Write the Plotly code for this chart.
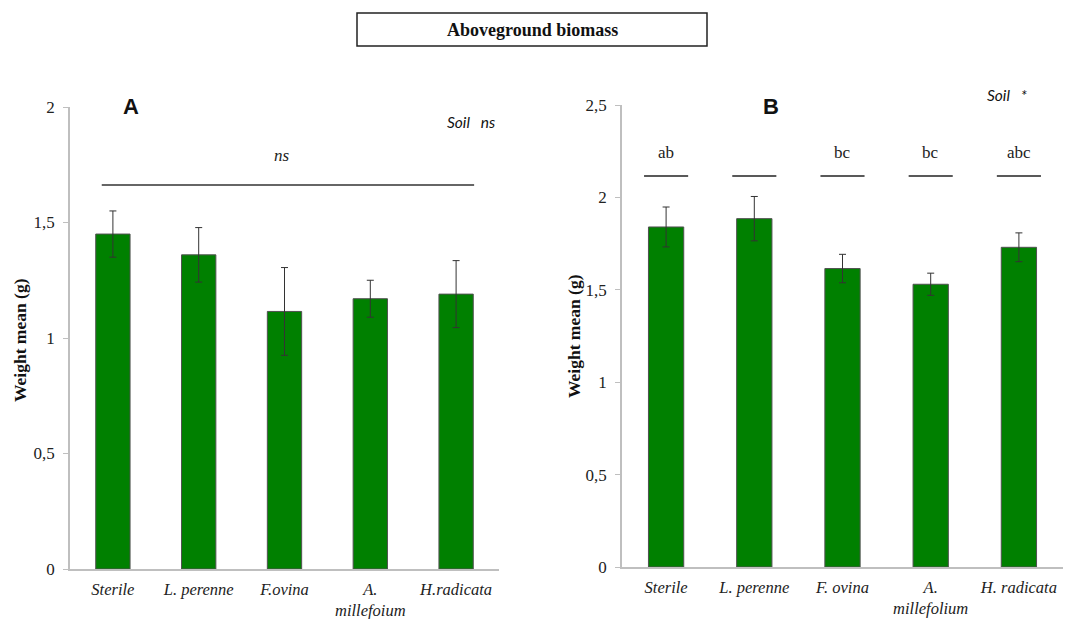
import plotly.graph_objects as go

# ---- data ----
cats_a = ["Sterile", "L. perenne", "F.ovina", "A.<br>millefoium", "H.radicata"]
means_a = [1.45, 1.36, 1.115, 1.17, 1.19]
errs_a = [0.10, 0.118, 0.19, 0.08, 0.145]

cats_b = ["Sterile", "L. perenne", "F. ovina", "A.<br>millefolium", "H. radicata"]
means_b = [1.84, 1.885, 1.615, 1.53, 1.73]
errs_b = [0.108, 0.12, 0.077, 0.06, 0.078]
letters_b = ["ab", "", "bc", "bc", "abc"]

yticks_a = [0, 0.5, 1, 1.5, 2]
yticklabels_a = ["0", "0,5", "1", "1,5", "2"]
yticks_b = [0, 0.5, 1, 1.5, 2, 2.5]
yticklabels_b = ["0", "0,5", "1", "1,5", "2", "2,5"]

sig_line_a = 1.662
letter_line_b = 2.116

GREEN = "#008000"
AX = "#bfbfbf"
SERIF = "Liberation Serif"
SANS = "Liberation Sans"
CAL = "Lato"

W, H = 1067, 619

fig = go.Figure()
fig.add_trace(go.Bar(
    x=cats_a, y=means_a, xaxis="x", yaxis="y", width=0.4,
    marker=dict(color=GREEN, line=dict(color="#505050", width=1)),
    error_y=dict(type="data", array=errs_a, color="#333333", thickness=1, width=3.5),
    showlegend=False))
fig.add_trace(go.Bar(
    x=cats_b, y=means_b, xaxis="x2", yaxis="y2", width=0.4,
    marker=dict(color=GREEN, line=dict(color="#505050", width=1)),
    error_y=dict(type="data", array=errs_b, color="#333333", thickness=1, width=3.5),
    showlegend=False))


def xaxis_cfg(cats, dom, anchor):
    return dict(domain=dom, anchor=anchor, showline=True, linecolor=AX, linewidth=1.5,
                ticks="", showgrid=False, zeroline=False, automargin=False,
                tickmode="array", tickvals=cats, ticktext=["<i>" + c + "</i>" for c in cats],
                tickfont=dict(family=SERIF, size=16.5, color="#222"), ticklabelstandoff=4)


def yaxis_cfg(dom, anchor, rng, tv, tt):
    return dict(domain=dom, anchor=anchor, range=rng, tickmode="array", tickvals=tv, ticktext=tt,
                showline=True, linecolor=AX, linewidth=1.5, ticks="outside", ticklen=5,
                tickcolor=AX, showgrid=False, zeroline=False, automargin=False,
                tickfont=dict(family=SERIF, size=17, color="#222"), ticklabelstandoff=5)


fig.update_layout(
    width=W, height=H, margin=dict(l=0, r=0, t=0, b=0, pad=0, autoexpand=False),
    paper_bgcolor="white", plot_bgcolor="white",
    xaxis=xaxis_cfg(cats_a, [70 / W, 499 / W], "y"),
    yaxis=yaxis_cfg([(H - 569) / H, (H - 107) / H], "x", [0, 2], yticks_a, yticklabels_a),
    xaxis2=xaxis_cfg(cats_b, [622 / W, 1063 / W], "y2"),
    yaxis2=yaxis_cfg([(H - 567) / H, (H - 105) / H], "x2", [0, 2.5], yticks_b, yticklabels_b),
)

shapes = []
shapes.append(dict(type="rect", xref="paper", yref="paper",
                   x0=357 / W, x1=707 / W, y0=(H - 46) / H, y1=(H - 13) / H,
                   line=dict(color="#222", width=1.5)))
shapes.append(dict(type="line", xref="x", yref="y", x0=-0.13, x1=4.21,
                   y0=sig_line_a, y1=sig_line_a, line=dict(color="#333", width=1.5)))
for i in range(len(cats_b)):
    shapes.append(dict(type="line", xref="x2", yref="y2", x0=i - 0.25, x1=i + 0.25,
                       y0=letter_line_b, y1=letter_line_b, line=dict(color="#222", width=1.5)))

M = dict(showarrow=False, xanchor="center", yanchor="middle")
ann = []
ann.append(dict(text="<b>Aboveground biomass</b>", xref="paper", yref="paper",
                x=532 / W, y=(H - 30) / H, font=dict(family=SERIF, size=18, color="#111"), **M))
ann.append(dict(text="<b>A</b>", xref="paper", yref="paper", x=131 / W, y=(H - 107) / H,
                font=dict(family=SANS, size=22, color="#111"), **M))
ann.append(dict(text="<b>B</b>", xref="paper", yref="paper", x=771 / W, y=(H - 107) / H,
                font=dict(family=SANS, size=22, color="#111"), **M))
ann.append(dict(text="<i>Soil   ns</i>", xref="paper", yref="paper", x=471 / W, y=(H - 122) / H,
                font=dict(family=CAL, size=15.5, color="#111"), **M))
ann.append(dict(text="<i>Soil   *</i>", xref="paper", yref="paper", x=1007 / W, y=(H - 95) / H,
                font=dict(family=CAL, size=15.5, color="#111"), **M))
ann.append(dict(text="<i>ns</i>", xref="x", yref="y", x=1.97, y=1.79,
                font=dict(family=SERIF, size=17, color="#222"), **M))
for i, t in enumerate(letters_b):
    if t:
        ann.append(dict(text=t, xref="x2", yref="y2", x=i, y=2.245,
                        font=dict(family=SERIF, size=17, color="#222"), **M))
ann.append(dict(text="<b>Weight mean (g)</b>", xref="paper", yref="paper", x=20 / W,
                y=(H - 340) / H, textangle=-90, font=dict(family=SERIF, size=17.5, color="#111"), **M))
ann.append(dict(text="<b>Weight mean (g)</b>", xref="paper", yref="paper", x=574 / W,
                y=(H - 336) / H, textangle=-90, font=dict(family=SERIF, size=17.5, color="#111"), **M))

fig.update_layout(shapes=shapes, annotations=ann)

fig.write_html("out.html")
